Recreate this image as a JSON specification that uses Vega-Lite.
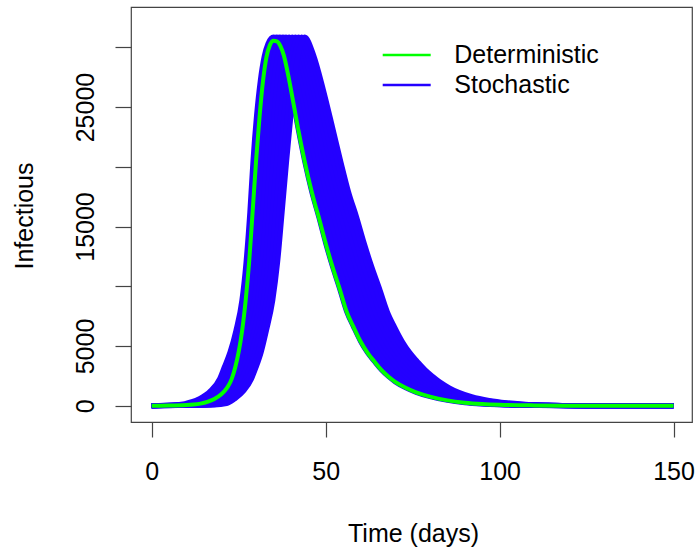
{
"$schema": "https://vega.github.io/schema/vega-lite/v6.json",
"width": 561, "height": 415,
"autosize": {"type": "none"},
"padding": {"left": 131, "top": 7, "right": 3, "bottom": 126},
"background": "white",
"config": {"view": {"stroke": "#444", "strokeWidth": 1.2}, "font": "Liberation Sans"},
"datasets": {
"det": [{"t":0,"i":3},{"t":5,"i":12},{"t":10,"i":55},{"t":12,"i":100},{"t":14,"i":180},{"t":16,"i":320},{"t":18,"i":560},{"t":20,"i":960},{"t":21,"i":1250},{"t":22,"i":1650},{"t":23,"i":2250},{"t":24,"i":3200},{"t":25,"i":4500},{"t":26,"i":6300},{"t":27,"i":8800},{"t":28,"i":12000},{"t":29,"i":16200},{"t":30,"i":20500},{"t":31,"i":24200},{"t":32,"i":27200},{"t":33,"i":29200},{"t":34,"i":30200},{"t":35,"i":30550},{"t":36,"i":30500},{"t":37,"i":30100},{"t":38,"i":29300},{"t":39,"i":28000},{"t":40,"i":26500},{"t":41,"i":24900},{"t":42,"i":23300},{"t":43,"i":21800},{"t":44,"i":20400},{"t":45,"i":19100},{"t":46,"i":17900},{"t":47,"i":16800},{"t":48,"i":15800},{"t":50,"i":13600},{"t":52,"i":11600},{"t":54,"i":9800},{"t":56,"i":7900},{"t":58,"i":6600},{"t":60,"i":5400},{"t":62,"i":4450},{"t":64,"i":3700},{"t":66,"i":3000},{"t":68,"i":2450},{"t":70,"i":2000},{"t":73,"i":1500},{"t":76,"i":1120},{"t":80,"i":760},{"t":85,"i":450},{"t":90,"i":260},{"t":95,"i":150},{"t":100,"i":85},{"t":110,"i":28},{"t":120,"i":9},{"t":130,"i":3},{"t":140,"i":1},{"t":150,"i":0}],
"sto": [
{"r":0,"t":0,"i":3},{"r":0,"t":6,"i":55},{"r":0,"t":9.5,"i":180},{"r":0,"t":13.5,"i":560},{"r":0,"t":16.9,"i":1250},{"r":0,"t":19.5,"i":2250},{"r":0,"t":20.8,"i":3200},{"r":0,"t":22.5,"i":4500},{"r":0,"t":24.2,"i":6300},{"r":0,"t":25.9,"i":8800},{"r":0,"t":27.1,"i":12000},{"r":0,"t":28.2,"i":16200},{"r":0,"t":29.1,"i":20500},{"r":0,"t":30.1,"i":24200},{"r":0,"t":31.2,"i":27200},{"r":0,"t":32.3,"i":29200},{"r":0,"t":33.4,"i":30300},{"r":0,"t":35,"i":30850},{"r":0,"t":38,"i":29300},{"r":0,"t":40,"i":26500},{"r":0,"t":42,"i":23300},{"r":0,"t":44,"i":20400},{"r":0,"t":46,"i":17900},{"r":0,"t":48,"i":15800},{"r":0,"t":50,"i":13600},{"r":0,"t":52,"i":11600},{"r":0,"t":54,"i":9800},{"r":0,"t":56,"i":7900},{"r":0,"t":58,"i":6600},{"r":0,"t":60,"i":5400},{"r":0,"t":62,"i":4450},{"r":0,"t":64,"i":3700},{"r":0,"t":66,"i":3000},{"r":0,"t":68,"i":2450},{"r":0,"t":70,"i":2000},{"r":0,"t":73,"i":1500},{"r":0,"t":76,"i":1120},{"r":0,"t":80,"i":760},{"r":0,"t":85,"i":450},{"r":0,"t":90,"i":260},{"r":0,"t":95,"i":150},{"r":0,"t":100,"i":85},{"r":0,"t":110,"i":28},{"r":0,"t":125,"i":5},{"r":0,"t":150,"i":0},
{"r":1,"t":0,"i":3},{"r":1,"t":7.2,"i":55},{"r":1,"t":10.7,"i":180},{"r":1,"t":14.5,"i":560},{"r":1,"t":17.9,"i":1250},{"r":1,"t":20.4,"i":2250},{"r":1,"t":21.7,"i":3200},{"r":1,"t":23.4,"i":4500},{"r":1,"t":25.1,"i":6300},{"r":1,"t":26.8,"i":8800},{"r":1,"t":28,"i":12000},{"r":1,"t":29.1,"i":16200},{"r":1,"t":30.1,"i":20500},{"r":1,"t":31.1,"i":24200},{"r":1,"t":32.2,"i":27200},{"r":1,"t":33.3,"i":29200},{"r":1,"t":34.4,"i":30300},{"r":1,"t":35.9,"i":30850},{"r":1,"t":38.9,"i":29300},{"r":1,"t":40.9,"i":26500},{"r":1,"t":43,"i":23300},{"r":1,"t":45,"i":20400},{"r":1,"t":47.1,"i":17900},{"r":1,"t":49.1,"i":15800},{"r":1,"t":51.1,"i":13600},{"r":1,"t":53.1,"i":11600},{"r":1,"t":55.2,"i":9800},{"r":1,"t":57.2,"i":7900},{"r":1,"t":59.2,"i":6600},{"r":1,"t":61.2,"i":5400},{"r":1,"t":63.2,"i":4450},{"r":1,"t":65.2,"i":3700},{"r":1,"t":67.3,"i":3000},{"r":1,"t":69.3,"i":2450},{"r":1,"t":71.3,"i":2000},{"r":1,"t":74.3,"i":1500},{"r":1,"t":77.2,"i":1120},{"r":1,"t":81.2,"i":760},{"r":1,"t":86.2,"i":450},{"r":1,"t":91.2,"i":260},{"r":1,"t":96.2,"i":150},{"r":1,"t":101.1,"i":85},{"r":1,"t":110.8,"i":28},{"r":1,"t":125,"i":5},{"r":1,"t":150,"i":0},
{"r":2,"t":0,"i":3},{"r":2,"t":8.4,"i":55},{"r":2,"t":11.9,"i":180},{"r":2,"t":15.6,"i":560},{"r":2,"t":18.8,"i":1250},{"r":2,"t":21.3,"i":2250},{"r":2,"t":22.6,"i":3200},{"r":2,"t":24.3,"i":4500},{"r":2,"t":26,"i":6300},{"r":2,"t":27.7,"i":8800},{"r":2,"t":28.9,"i":12000},{"r":2,"t":30.1,"i":16200},{"r":2,"t":31,"i":20500},{"r":2,"t":32.1,"i":24200},{"r":2,"t":33.2,"i":27200},{"r":2,"t":34.2,"i":29200},{"r":2,"t":35.3,"i":30300},{"r":2,"t":36.8,"i":30850},{"r":2,"t":39.7,"i":29300},{"r":2,"t":41.9,"i":26500},{"r":2,"t":44,"i":23300},{"r":2,"t":46.1,"i":20400},{"r":2,"t":48.1,"i":17900},{"r":2,"t":50.2,"i":15800},{"r":2,"t":52.2,"i":13600},{"r":2,"t":54.3,"i":11600},{"r":2,"t":56.3,"i":9800},{"r":2,"t":58.3,"i":7900},{"r":2,"t":60.4,"i":6600},{"r":2,"t":62.4,"i":5400},{"r":2,"t":64.4,"i":4450},{"r":2,"t":66.5,"i":3700},{"r":2,"t":68.5,"i":3000},{"r":2,"t":70.6,"i":2450},{"r":2,"t":72.6,"i":2000},{"r":2,"t":75.5,"i":1500},{"r":2,"t":78.5,"i":1120},{"r":2,"t":82.4,"i":760},{"r":2,"t":87.4,"i":450},{"r":2,"t":92.4,"i":260},{"r":2,"t":97.3,"i":150},{"r":2,"t":102.1,"i":85},{"r":2,"t":111.6,"i":28},{"r":2,"t":125,"i":5},{"r":2,"t":150,"i":0},
{"r":3,"t":0,"i":3},{"r":3,"t":9.6,"i":55},{"r":3,"t":13.1,"i":180},{"r":3,"t":16.6,"i":560},{"r":3,"t":19.8,"i":1250},{"r":3,"t":22.3,"i":2250},{"r":3,"t":23.6,"i":3200},{"r":3,"t":25.2,"i":4500},{"r":3,"t":26.8,"i":6300},{"r":3,"t":28.6,"i":8800},{"r":3,"t":29.8,"i":12000},{"r":3,"t":31,"i":16200},{"r":3,"t":32,"i":20500},{"r":3,"t":33.1,"i":24200},{"r":3,"t":34.1,"i":27200},{"r":3,"t":35.2,"i":29200},{"r":3,"t":36.3,"i":30300},{"r":3,"t":37.7,"i":30850},{"r":3,"t":40.6,"i":29300},{"r":3,"t":42.8,"i":26500},{"r":3,"t":45,"i":23300},{"r":3,"t":47.1,"i":20400},{"r":3,"t":49.2,"i":17900},{"r":3,"t":51.3,"i":15800},{"r":3,"t":53.3,"i":13600},{"r":3,"t":55.4,"i":11600},{"r":3,"t":57.5,"i":9800},{"r":3,"t":59.5,"i":7900},{"r":3,"t":61.5,"i":6600},{"r":3,"t":63.6,"i":5400},{"r":3,"t":65.7,"i":4450},{"r":3,"t":67.7,"i":3700},{"r":3,"t":69.8,"i":3000},{"r":3,"t":71.8,"i":2450},{"r":3,"t":73.8,"i":2000},{"r":3,"t":76.8,"i":1500},{"r":3,"t":79.7,"i":1120},{"r":3,"t":83.6,"i":760},{"r":3,"t":88.6,"i":450},{"r":3,"t":93.6,"i":260},{"r":3,"t":98.5,"i":150},{"r":3,"t":103.2,"i":85},{"r":3,"t":112.4,"i":28},{"r":3,"t":125,"i":5},{"r":3,"t":150,"i":0},
{"r":4,"t":0,"i":3},{"r":4,"t":10.8,"i":55},{"r":4,"t":14.3,"i":180},{"r":4,"t":17.6,"i":560},{"r":4,"t":20.7,"i":1250},{"r":4,"t":23.2,"i":2250},{"r":4,"t":24.5,"i":3200},{"r":4,"t":26.1,"i":4500},{"r":4,"t":27.7,"i":6300},{"r":4,"t":29.5,"i":8800},{"r":4,"t":30.7,"i":12000},{"r":4,"t":31.9,"i":16200},{"r":4,"t":33,"i":20500},{"r":4,"t":34.1,"i":24200},{"r":4,"t":35.1,"i":27200},{"r":4,"t":36.2,"i":29200},{"r":4,"t":37.2,"i":30300},{"r":4,"t":38.6,"i":30850},{"r":4,"t":41.4,"i":29300},{"r":4,"t":43.7,"i":26500},{"r":4,"t":46,"i":23300},{"r":4,"t":48.2,"i":20400},{"r":4,"t":50.2,"i":17900},{"r":4,"t":52.4,"i":15800},{"r":4,"t":54.4,"i":13600},{"r":4,"t":56.5,"i":11600},{"r":4,"t":58.6,"i":9800},{"r":4,"t":60.7,"i":7900},{"r":4,"t":62.7,"i":6600},{"r":4,"t":64.8,"i":5400},{"r":4,"t":66.9,"i":4450},{"r":4,"t":69,"i":3700},{"r":4,"t":71,"i":3000},{"r":4,"t":73.1,"i":2450},{"r":4,"t":75.1,"i":2000},{"r":4,"t":78,"i":1500},{"r":4,"t":80.9,"i":1120},{"r":4,"t":84.8,"i":760},{"r":4,"t":89.8,"i":450},{"r":4,"t":94.8,"i":260},{"r":4,"t":99.6,"i":150},{"r":4,"t":104.2,"i":85},{"r":4,"t":113.2,"i":28},{"r":4,"t":125,"i":5},{"r":4,"t":150,"i":0},
{"r":5,"t":0,"i":3},{"r":5,"t":12,"i":55},{"r":5,"t":15.5,"i":180},{"r":5,"t":18.7,"i":560},{"r":5,"t":21.7,"i":1250},{"r":5,"t":24.1,"i":2250},{"r":5,"t":25.4,"i":3200},{"r":5,"t":27,"i":4500},{"r":5,"t":28.6,"i":6300},{"r":5,"t":30.4,"i":8800},{"r":5,"t":31.7,"i":12000},{"r":5,"t":32.9,"i":16200},{"r":5,"t":34,"i":20500},{"r":5,"t":35.1,"i":24200},{"r":5,"t":36.1,"i":27200},{"r":5,"t":37.2,"i":29200},{"r":5,"t":38.2,"i":30300},{"r":5,"t":39.5,"i":30850},{"r":5,"t":42.3,"i":29300},{"r":5,"t":44.7,"i":26500},{"r":5,"t":47,"i":23300},{"r":5,"t":49.2,"i":20400},{"r":5,"t":51.3,"i":17900},{"r":5,"t":53.5,"i":15800},{"r":5,"t":55.6,"i":13600},{"r":5,"t":57.7,"i":11600},{"r":5,"t":59.8,"i":9800},{"r":5,"t":61.9,"i":7900},{"r":5,"t":63.9,"i":6600},{"r":5,"t":66,"i":5400},{"r":5,"t":68.1,"i":4450},{"r":5,"t":70.2,"i":3700},{"r":5,"t":72.3,"i":3000},{"r":5,"t":74.4,"i":2450},{"r":5,"t":76.4,"i":2000},{"r":5,"t":79.3,"i":1500},{"r":5,"t":82.2,"i":1120},{"r":5,"t":86,"i":760},{"r":5,"t":91,"i":450},{"r":5,"t":96,"i":260},{"r":5,"t":100.8,"i":150},{"r":5,"t":105.3,"i":85},{"r":5,"t":114,"i":28},{"r":5,"t":125,"i":5},{"r":5,"t":150,"i":0},
{"r":6,"t":0,"i":3},{"r":6,"t":13.2,"i":55},{"r":6,"t":16.7,"i":180},{"r":6,"t":19.7,"i":560},{"r":6,"t":22.7,"i":1250},{"r":6,"t":25,"i":2250},{"r":6,"t":26.3,"i":3200},{"r":6,"t":27.9,"i":4500},{"r":6,"t":29.5,"i":6300},{"r":6,"t":31.2,"i":8800},{"r":6,"t":32.6,"i":12000},{"r":6,"t":33.8,"i":16200},{"r":6,"t":34.9,"i":20500},{"r":6,"t":36,"i":24200},{"r":6,"t":37.1,"i":27200},{"r":6,"t":38.1,"i":29200},{"r":6,"t":39.2,"i":30300},{"r":6,"t":40.4,"i":30850},{"r":6,"t":43.2,"i":29300},{"r":6,"t":45.6,"i":26500},{"r":6,"t":48,"i":23300},{"r":6,"t":50.2,"i":20400},{"r":6,"t":52.4,"i":17900},{"r":6,"t":54.5,"i":15800},{"r":6,"t":56.7,"i":13600},{"r":6,"t":58.8,"i":11600},{"r":6,"t":60.9,"i":9800},{"r":6,"t":63,"i":7900},{"r":6,"t":65.1,"i":6600},{"r":6,"t":67.2,"i":5400},{"r":6,"t":69.3,"i":4450},{"r":6,"t":71.4,"i":3700},{"r":6,"t":73.6,"i":3000},{"r":6,"t":75.7,"i":2450},{"r":6,"t":77.7,"i":2000},{"r":6,"t":80.6,"i":1500},{"r":6,"t":83.4,"i":1120},{"r":6,"t":87.2,"i":760},{"r":6,"t":92.2,"i":450},{"r":6,"t":97.2,"i":260},{"r":6,"t":101.9,"i":150},{"r":6,"t":106.3,"i":85},{"r":6,"t":114.8,"i":28},{"r":6,"t":125,"i":5},{"r":6,"t":150,"i":0},
{"r":7,"t":0,"i":3},{"r":7,"t":14.4,"i":55},{"r":7,"t":17.9,"i":180},{"r":7,"t":20.7,"i":560},{"r":7,"t":23.6,"i":1250},{"r":7,"t":25.9,"i":2250},{"r":7,"t":27.2,"i":3200},{"r":7,"t":28.8,"i":4500},{"r":7,"t":30.4,"i":6300},{"r":7,"t":32.1,"i":8800},{"r":7,"t":33.5,"i":12000},{"r":7,"t":34.7,"i":16200},{"r":7,"t":35.9,"i":20500},{"r":7,"t":37,"i":24200},{"r":7,"t":38.1,"i":27200},{"r":7,"t":39.1,"i":29200},{"r":7,"t":40.1,"i":30300},{"r":7,"t":41.3,"i":30850},{"r":7,"t":44,"i":29300},{"r":7,"t":46.5,"i":26500},{"r":7,"t":49,"i":23300},{"r":7,"t":51.3,"i":20400},{"r":7,"t":53.4,"i":17900},{"r":7,"t":55.6,"i":15800},{"r":7,"t":57.8,"i":13600},{"r":7,"t":59.9,"i":11600},{"r":7,"t":62.1,"i":9800},{"r":7,"t":64.2,"i":7900},{"r":7,"t":66.3,"i":6600},{"r":7,"t":68.4,"i":5400},{"r":7,"t":70.5,"i":4450},{"r":7,"t":72.7,"i":3700},{"r":7,"t":74.8,"i":3000},{"r":7,"t":77,"i":2450},{"r":7,"t":79,"i":2000},{"r":7,"t":81.8,"i":1500},{"r":7,"t":84.6,"i":1120},{"r":7,"t":88.4,"i":760},{"r":7,"t":93.4,"i":450},{"r":7,"t":98.4,"i":260},{"r":7,"t":103.1,"i":150},{"r":7,"t":107.4,"i":85},{"r":7,"t":115.6,"i":28},{"r":7,"t":125,"i":5},{"r":7,"t":150,"i":0},
{"r":8,"t":0,"i":3},{"r":8,"t":15.6,"i":55},{"r":8,"t":19.1,"i":180},{"r":8,"t":21.7,"i":560},{"r":8,"t":24.6,"i":1250},{"r":8,"t":26.9,"i":2250},{"r":8,"t":28.2,"i":3200},{"r":8,"t":29.7,"i":4500},{"r":8,"t":31.2,"i":6300},{"r":8,"t":33,"i":8800},{"r":8,"t":34.4,"i":12000},{"r":8,"t":35.6,"i":16200},{"r":8,"t":36.9,"i":20500},{"r":8,"t":38,"i":24200},{"r":8,"t":39,"i":27200},{"r":8,"t":40.1,"i":29200},{"r":8,"t":41.1,"i":30300},{"r":8,"t":42.2,"i":30850},{"r":8,"t":44.9,"i":29300},{"r":8,"t":47.4,"i":26500},{"r":8,"t":50,"i":23300},{"r":8,"t":52.3,"i":20400},{"r":8,"t":54.5,"i":17900},{"r":8,"t":56.7,"i":15800},{"r":8,"t":58.9,"i":13600},{"r":8,"t":61,"i":11600},{"r":8,"t":63.2,"i":9800},{"r":8,"t":65.4,"i":7900},{"r":8,"t":67.4,"i":6600},{"r":8,"t":69.6,"i":5400},{"r":8,"t":71.8,"i":4450},{"r":8,"t":73.9,"i":3700},{"r":8,"t":76.1,"i":3000},{"r":8,"t":78.2,"i":2450},{"r":8,"t":80.2,"i":2000},{"r":8,"t":83.1,"i":1500},{"r":8,"t":85.8,"i":1120},{"r":8,"t":89.6,"i":760},{"r":8,"t":94.6,"i":450},{"r":8,"t":99.6,"i":260},{"r":8,"t":104.2,"i":150},{"r":8,"t":108.4,"i":85},{"r":8,"t":116.4,"i":28},{"r":8,"t":125,"i":5},{"r":8,"t":150,"i":0},
{"r":9,"t":0,"i":3},{"r":9,"t":16.8,"i":55},{"r":9,"t":20.3,"i":180},{"r":9,"t":22.8,"i":560},{"r":9,"t":25.5,"i":1250},{"r":9,"t":27.8,"i":2250},{"r":9,"t":29.1,"i":3200},{"r":9,"t":30.6,"i":4500},{"r":9,"t":32.1,"i":6300},{"r":9,"t":33.9,"i":8800},{"r":9,"t":35.3,"i":12000},{"r":9,"t":36.6,"i":16200},{"r":9,"t":37.8,"i":20500},{"r":9,"t":39,"i":24200},{"r":9,"t":40,"i":27200},{"r":9,"t":41,"i":29200},{"r":9,"t":42,"i":30300},{"r":9,"t":43.1,"i":30850},{"r":9,"t":45.7,"i":29300},{"r":9,"t":48.4,"i":26500},{"r":9,"t":51,"i":23300},{"r":9,"t":53.4,"i":20400},{"r":9,"t":55.5,"i":17900},{"r":9,"t":57.8,"i":15800},{"r":9,"t":60,"i":13600},{"r":9,"t":62.2,"i":11600},{"r":9,"t":64.4,"i":9800},{"r":9,"t":66.5,"i":7900},{"r":9,"t":68.6,"i":6600},{"r":9,"t":70.8,"i":5400},{"r":9,"t":73,"i":4450},{"r":9,"t":75.2,"i":3700},{"r":9,"t":77.3,"i":3000},{"r":9,"t":79.5,"i":2450},{"r":9,"t":81.5,"i":2000},{"r":9,"t":84.3,"i":1500},{"r":9,"t":87.1,"i":1120},{"r":9,"t":90.8,"i":760},{"r":9,"t":95.8,"i":450},{"r":9,"t":100.8,"i":260},{"r":9,"t":105.4,"i":150},{"r":9,"t":109.5,"i":85},{"r":9,"t":117.2,"i":28},{"r":9,"t":125,"i":5},{"r":9,"t":150,"i":0},
{"r":10,"t":0,"i":3},{"r":10,"t":18,"i":55},{"r":10,"t":21.5,"i":180},{"r":10,"t":23.8,"i":560},{"r":10,"t":26.5,"i":1250},{"r":10,"t":28.7,"i":2250},{"r":10,"t":30,"i":3200},{"r":10,"t":31.5,"i":4500},{"r":10,"t":33,"i":6300},{"r":10,"t":34.8,"i":8800},{"r":10,"t":36.2,"i":12000},{"r":10,"t":37.5,"i":16200},{"r":10,"t":38.8,"i":20500},{"r":10,"t":40,"i":24200},{"r":10,"t":41,"i":27200},{"r":10,"t":42,"i":29200},{"r":10,"t":43,"i":30300},{"r":10,"t":44,"i":30850},{"r":10,"t":46.6,"i":29300},{"r":10,"t":49.3,"i":26500},{"r":10,"t":52,"i":23300},{"r":10,"t":54.4,"i":20400},{"r":10,"t":56.6,"i":17900},{"r":10,"t":58.9,"i":15800},{"r":10,"t":61.1,"i":13600},{"r":10,"t":63.3,"i":11600},{"r":10,"t":65.5,"i":9800},{"r":10,"t":67.7,"i":7900},{"r":10,"t":69.8,"i":6600},{"r":10,"t":72,"i":5400},{"r":10,"t":74.2,"i":4450},{"r":10,"t":76.4,"i":3700},{"r":10,"t":78.6,"i":3000},{"r":10,"t":80.8,"i":2450},{"r":10,"t":82.8,"i":2000},{"r":10,"t":85.6,"i":1500},{"r":10,"t":88.3,"i":1120},{"r":10,"t":92,"i":760},{"r":10,"t":97,"i":450},{"r":10,"t":102,"i":260},{"r":10,"t":106.5,"i":150},{"r":10,"t":110.5,"i":85},{"r":10,"t":118,"i":28},{"r":10,"t":125,"i":5},{"r":10,"t":150,"i":0}
]
},
"layer": [
{
"data": {"name": "sto"},
"mark": {"type": "line", "strokeWidth": 5, "opacity": 1, "interpolate": "monotone"},
"encoding": {
"x": {"field": "t", "type": "quantitative",
"scale": {"domain": [-5.95, 155.3], "nice": false, "zero": false},
"axis": {"values": [0, 50, 100, 150], "title": "Time (days)", "grid": false, "domain": false,
"tickSize": 15, "tickColor": "#444", "tickWidth": 1.2,
"labelFontSize": 25, "labelFont": "Liberation Sans", "labelColor": "#000", "labelBaseline": "alphabetic", "labelPadding": 42,
"labelFlush": false, "labelOverlap": false, "labelBound": false,
"titleFontSize": 25, "titleFont": "Liberation Sans", "titleFontWeight": "normal", "titleColor": "#000",
"titleBaseline": "alphabetic", "titleY": 119, "titleX": 282, "titleAlign": "center"}},
"y": {"field": "i", "type": "quantitative",
"scale": {"domain": [-1360, 33370], "nice": false, "zero": false},
"axis": {"values": [0, 5000, 10000, 15000, 20000, 25000, 30000], "format": "d",
"labelExpr": "(datum.value == 10000 || datum.value == 20000 || datum.value == 30000) ? '' : datum.label",
"title": "Infectious", "grid": false, "domain": false,
"tickSize": 16, "tickColor": "#444", "tickWidth": 1.2,
"labelFontSize": 25, "labelFont": "Liberation Sans", "labelColor": "#000",
"labelAngle": 270, "labelAlign": "center", "labelBaseline": "alphabetic", "labelPadding": 21.7,
"labelFlush": false, "labelOverlap": false, "labelBound": false,
"titleFontSize": 25, "titleFont": "Liberation Sans", "titleFontWeight": "normal", "titleColor": "#000",
"titleAngle": 270, "titleBaseline": "alphabetic", "titleAlign": "center", "titleX": -99, "titleY": 208.5}},
"detail": {"field": "r"},
"color": {"datum": "Stochastic",
"scale": {"domain": ["Deterministic", "Stochastic"], "range": ["#00FF00", "#2400FF"]},
"legend": {"orient": "none", "legendX": 250.2, "legendY": 34, "title": null, "padding": 0,
"symbolType": "stroke", "symbolSize": 2304, "symbolStrokeWidth": 2.5, "symbolOpacity": 1,
"clipHeight": 28, "rowPadding": 2, "labelOffset": 22.1,
"labelFontSize": 25, "labelFont": "Liberation Sans", "labelColor": "#000", "labelLimit": 0}}
}
},
{
"data": {"name": "det"},
"mark": {"type": "line", "strokeWidth": 4, "interpolate": "monotone"},
"encoding": {
"x": {"field": "t", "type": "quantitative"},
"y": {"field": "i", "type": "quantitative"},
"color": {"datum": "Deterministic"}
}
}
]
}
